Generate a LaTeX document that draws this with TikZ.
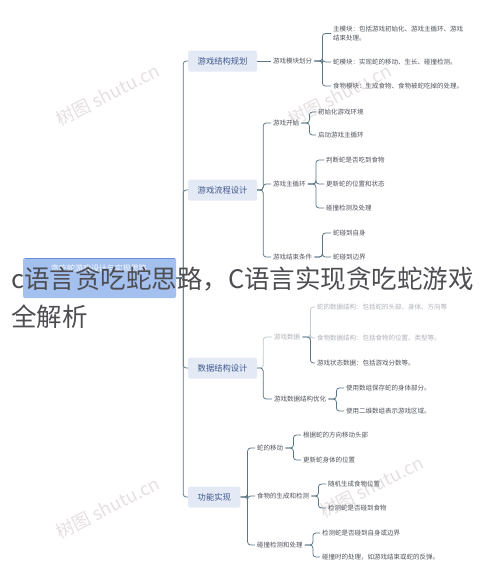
\documentclass[tikz,border=0pt]{standalone}
\usepackage{fontspec}
\setmainfont{Noto Sans CJK SC}
\definecolor{lc}{RGB}{88,118,132}
\definecolor{lcf}{RGB}{190,200,208}
\definecolor{onefill}{RGB}{228,233,246}
\definecolor{onetext}{RGB}{62,88,138}
\definecolor{tc}{RGB}{80,84,92}
\definecolor{tcf}{RGB}{175,178,185}
\definecolor{rootfill}{RGB}{163,192,239}
\definecolor{rootedge}{RGB}{100,145,220}
\definecolor{wm}{RGB}{230,224,226}
\definecolor{titlec}{RGB}{78,78,82}
\begin{document}
\begin{tikzpicture}[x=1pt,y=-1pt,
  conn/.style={draw=lc, line width=0.75pt, rounded corners=3pt},
  connf/.style={draw=lcf, line width=0.75pt, rounded corners=3pt},
  lone/.style={fill=onefill, text=onetext, font=\fontsize{8.3}{10}\selectfont, minimum height=21pt, inner xsep=9.5pt, inner ysep=0pt, anchor=west, rounded corners=1.5pt},
  ltwo/.style={text=tc, font=\fontsize{6.5}{8.5}\selectfont, inner sep=2pt, anchor=west},
  ltwof/.style={ltwo, text=tcf},
  wmark/.style={text=wm, font=\fontsize{18}{22}\selectfont, rotate=27, inner sep=0pt}
]
\useasboundingbox (0,0) rectangle (490,587);
\fill[white] (0,0) rectangle (490,587);

% watermarks
\node[wmark] (w1) at (108,95) {树图 shutu.cn};
\node[wmark] (w2) at (108,508) {树图 shutu.cn};
\node[wmark] (w3) at (340,95) {树图 shutu.cn};
\node[wmark] (w5) at (372,487) {树图 shutu.cn};

% root
\node[fill=rootfill, minimum width=153pt, minimum height=40pt, inner sep=0pt, rounded corners=2pt] (root) at (99.5,278) {};
\draw[rootedge, line width=1.2pt] (24.5,258.6) -- (174.5,258.6);
\node[text=white, font=\fontsize{8}{10}\selectfont, inner sep=0pt] (roottxt) at (99,268) {贪吃蛇游戏设计与实现思路};

% level 1
\node[lone] (a) at (188,61) {游戏结构规划};
\node[lone] (b) at (188,190) {游戏流程设计};
\node[lone] (c) at (188,368) {数据结构设计};
\node[lone] (d) at (188,497) {功能实现};

\foreach \n in {a,b,c,d} \draw[conn] (root.east) -- ++(7,0) |- (\n.west);

% branch a
\node[ltwo] (a1) at (271,61) {游戏模块划分};
\node[ltwo, align=left] (a11) at (331,33.5) {主模块：包括游戏初始化、游戏主循环、游戏\\结束处理。};
\node[ltwo] (a12) at (331,62) {蛇模块：实现蛇的移动、生长、碰撞检测。};
\node[ltwo] (a13) at (331,86) {食物模块：生成食物、食物被蛇吃掉的处理。};
\draw[conn] (a.east) -- (a1.west);
\foreach \n in {a11,a12,a13} \draw[conn] (a1.east) -- ++(8,0) |- (\n.west);

% branch b
\node[ltwo] (b1) at (271,123) {游戏开始};
\node[ltwo] (b2) at (271,184) {游戏主循环};
\node[ltwo] (b3) at (271,257) {游戏结束条件};
\foreach \n in {b1,b2,b3} \draw[conn] (b.east) -- ++(6,0) |- (\n.west);
\node[ltwo] (b11) at (316,112) {初始化游戏环境};
\node[ltwo] (b12) at (316,135) {启动游戏主循环};
\foreach \n in {b11,b12} \draw[conn] (b1.east) -- ++(8,0) |- (\n.west);
\node[ltwo] (b21) at (324,160) {判断蛇是否吃到食物};
\node[ltwo] (b22) at (324,184) {更新蛇的位置和状态};
\node[ltwo] (b23) at (324,208) {碰撞检测及处理};
\foreach \n in {b21,b22,b23} \draw[conn] (b2.east) -- ++(8,0) |- (\n.west);
\node[ltwo] (b31) at (331,233) {蛇碰到自身};
\node[ltwo] (b32) at (331,257) {蛇碰到边界};
\foreach \n in {b31,b32} \draw[conn] (b3.east) -- ++(8,0) |- (\n.west);

% branch c
\node[ltwof] (c1) at (272,337) {游戏数据};
\node[ltwo] (c2) at (272,399) {游戏数据结构优化};
\draw[connf] (c.east) -- ++(6,0) |- (c1.west);
\draw[conn] (c.east) -- ++(6,0) |- (c2.west);
\node[ltwof] (c11) at (315,307) {蛇的数据结构：包括蛇的头部、身体、方向等};
\node[ltwof] (c12) at (315,338) {食物数据结构：包括食物的位置、类型等。};
\node[ltwo] (c13) at (315,363) {游戏状态数据：包括游戏分数等。};
\draw[connf] (c1.east) -- ++(8,0) |- (c11.west);
\draw[connf] (c1.east) -- ++(8,0) |- (c12.west);
\draw[conn] (c1.east) -- ++(8,0) |- (c13.west);
\node[ltwo] (c21) at (344,388) {使用数组保存蛇的身体部分。};
\node[ltwo] (c22) at (344,411) {使用二维数组表示游戏区域。};
\foreach \n in {c21,c22} \draw[conn] (c2.east) -- ++(8,0) |- (\n.west);

% branch d
\node[ltwo] (d1) at (255,448) {蛇的移动};
\node[ltwo] (d2) at (255,496) {食物的生成和检测};
\node[ltwo] (d3) at (255,545) {碰撞检测和处理};
\foreach \n in {d1,d2,d3} \draw[conn] (d.east) -- ++(7,0) |- (\n.west);
\node[ltwo] (d11) at (301,435) {根据蛇的方向移动头部};
\node[ltwo] (d12) at (301,460) {更新蛇身体的位置};
\foreach \n in {d11,d12} \draw[conn] (d1.east) -- ++(8,0) |- (\n.west);
\node[ltwo] (d21) at (326,484) {随机生成食物位置};
\node[ltwo] (d22) at (326,508) {检测蛇是否碰到食物};
\foreach \n in {d21,d22} \draw[conn] (d2.east) -- ++(7,0) |- (\n.west);
\node[ltwo] (d31) at (320,533) {检测蛇是否碰到自身或边界};
\node[ltwo] (d32) at (320,557) {碰撞时的处理，如游戏结束或蛇的反弹。};
\foreach \n in {d31,d32} \draw[conn] (d3.east) -- ++(8,0) |- (\n.west);

% overlay title
\node[text=titlec, font=\fontsize{25.5}{38}\selectfont, anchor=north west, inner sep=0pt, align=left] (title) at (11,267) {c语言贪吃蛇思路，C语言实现贪吃蛇游戏\\全解析};
\end{tikzpicture}
\end{document}
